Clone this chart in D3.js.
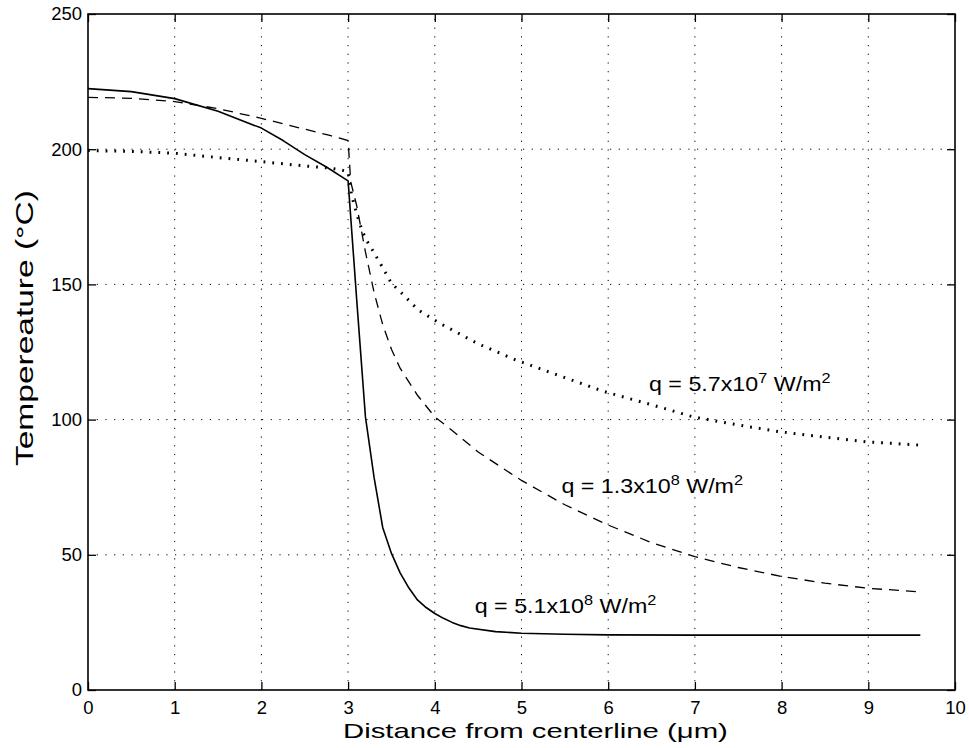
<!DOCTYPE html>
<html>
<head>
<meta charset="utf-8">
<title>Temperature vs distance</title>
<style>
	body{ margin:0; background:#fff; }
	svg text{ font-family: "Liberation Sans", Arial, Helvetica, sans-serif; fill:#000; }
	.grid line{ stroke:#000; stroke-width:1; stroke-dasharray:1.2,7.5; }
</style>
<script src="https://cdn.jsdelivr.net/npm/d3@7"></script>
</head>
<body>
<script>
	var width = 969, height = 748;

	// solid curve, q = 5.1x10^8 W/m^2
	var xSolid = [0, 0.5, 1, 1.5, 2, 2.25, 2.5, 2.75, 3, 3.1, 3.2, 3.3, 3.4, 3.5, 3.6, 3.7, 3.8, 3.9, 4, 4.1, 4.2, 4.3, 4.4, 4.7, 5, 5.5, 6, 7, 8, 9, 9.6];
	var tSolid = [222.4, 221.3, 218.7, 214, 207.8, 203.2, 198, 193.4, 188.3, 144, 101, 78.5, 60, 50.5, 43.3, 37.8, 33.3, 30.5, 28.3, 26.5, 25, 23.8, 22.9, 21.6, 21, 20.6, 20.4, 20.3, 20.3, 20.3, 20.3];

	// dashed curve, q = 1.3x10^8 W/m^2
	var xDashed = [0, 0.5, 1, 1.5, 2, 2.5, 2.8, 3, 3.03, 3.1, 3.2, 3.3, 3.4, 3.5, 3.6, 3.8, 4, 4.2, 4.5, 5, 5.5, 6, 6.5, 7, 7.5, 8, 8.5, 9, 9.6];
	var tDashed = [219.2, 218.8, 217.6, 215, 211.4, 207.4, 205, 203.2, 188, 179, 162, 147, 135, 126, 119, 109, 101, 96, 88, 77.5, 68.5, 61, 54.5, 49.3, 45.3, 42, 39.5, 37.6, 36.3];

	// dotted curve, q = 5.7x10^7 W/m^2
	var xDotted = [0, 0.5, 1, 1.5, 2, 2.5, 2.8, 3, 3.04, 3.1, 3.16, 3.21, 3.27, 3.37, 3.5, 3.62, 3.81, 4.06, 4.5, 4.94, 5.5, 5.96, 6.5, 6.98, 7.5, 7.98, 8.5, 8.98, 9.58];
	var tDotted = [199.5, 199.2, 198.5, 196.9, 195.4, 193.8, 193, 191.8, 183, 176, 170, 166.4, 163.3, 157.8, 150.4, 146.7, 140.5, 135.6, 128, 122, 115.5, 110.3, 105.5, 101, 98, 95.5, 93.5, 91.8, 90.6];

	var xTicks = [0, 1, 2, 3, 4, 5, 6, 7, 8, 9, 10];
	var yTicks = [0, 50, 100, 150, 200, 250];

	var labelMain = ["q = 5.7x10", "q = 1.3x10", "q = 5.1x10"];
	var labelExp = ["7", "8", "8"];
	var labelX = [6.47, 5.46, 4.46];
	var labelY = [110.6, 73, 28.4];

	// plot box (note: "top" is reserved on window, so use m* names)
	var mLeft = 88, mRight = 955, mTop = 14, mBottom = 690;

	var x = d3.scaleLinear().domain([0, 10]).range([mLeft, mRight]);
	var y = d3.scaleLinear().domain([0, 250]).range([mBottom, mTop]);

	var svg = d3.select("body").append("svg")
		.attr("width", width)
		.attr("height", height);

	// grid
	var grid = svg.append("g").attr("class", "grid");
	grid.selectAll(".vx").data(xTicks.slice(1, -1)).enter().append("line")
		.attr("x1", function(d){ return x(d); }).attr("x2", function(d){ return x(d); })
		.attr("y1", mBottom).attr("y2", mTop);
	grid.selectAll(".hy").data(yTicks.slice(1, -1)).enter().append("line")
		.attr("x1", mLeft).attr("x2", mRight)
		.attr("y1", function(d){ return y(d); }).attr("y2", function(d){ return y(d); });

	// axes with inward ticks on all sides
	var tk = 8;
	svg.append("g").attr("transform", "translate(0," + mBottom + ")")
		.call(d3.axisBottom(x).tickValues(xTicks).tickSize(-tk).tickPadding(11).tickFormat(d3.format("d")));
	svg.append("g").attr("transform", "translate(0," + mTop + ")")
		.call(d3.axisTop(x).tickValues(xTicks).tickSize(-tk).tickFormat(""));
	svg.append("g").attr("transform", "translate(" + mLeft + ",0)")
		.call(d3.axisLeft(y).tickValues(yTicks).tickSize(-tk).tickPadding(6).tickFormat(d3.format("d")));
	svg.append("g").attr("transform", "translate(" + mRight + ",0)")
		.call(d3.axisRight(y).tickValues(yTicks).tickSize(-tk).tickFormat(""));

	svg.selectAll(".domain").remove();
	svg.selectAll(".tick line").attr("stroke", "#000").attr("stroke-width", 1.3);
	svg.selectAll(".tick text").style("font-size", "18.5px").attr("fill", "#000");

	svg.append("rect")
		.attr("x", mLeft).attr("y", mTop)
		.attr("width", mRight - mLeft).attr("height", mBottom - mTop)
		.attr("fill", "none").attr("stroke", "#000").attr("stroke-width", 1.6);

	// curves
	var line = d3.line()
		.x(function(d){ return x(d[0]); })
		.y(function(d){ return y(d[1]); });

	function pairs(xs, ts){ return xs.map(function(v, i){ return [v, ts[i]]; }); }

	svg.append("path").datum(pairs(xDotted, tDotted))
		.attr("d", line).attr("fill", "none").attr("stroke", "#000")
		.attr("stroke-width", 3).attr("stroke-dasharray", "1.8,7");
	svg.append("path").datum(pairs(xDashed, tDashed))
		.attr("d", line).attr("fill", "none").attr("stroke", "#000")
		.attr("stroke-width", 1.3).attr("stroke-dasharray", "10,7");
	svg.append("path").datum(pairs(xSolid, tSolid))
		.attr("d", line).attr("fill", "none").attr("stroke", "#000")
		.attr("stroke-width", 1.6).attr("stroke-linejoin", "round");

	// stretch a text group horizontally to a given width
	function stretch(g, px, py, w){
		var bb = g.node().getBBox();
		g.attr("transform", "translate(" + px + "," + py + ") scale(" + (w / bb.width) + ",1)");
	}

	// curve labels
	labelMain.forEach(function(m, i){
		var g = svg.append("g");
		var t = g.append("text").style("font-size", "20px");
		t.append("tspan").text(m);
		t.append("tspan").attr("dy", -8).style("font-size", "14px").text(labelExp[i]);
		t.append("tspan").attr("dy", 8).text(" W/m");
		t.append("tspan").attr("dy", -8).style("font-size", "14px").text("2");
		stretch(g, x(labelX[i]), y(labelY[i]), 182);
	});

	// axis titles
	var gx = svg.append("g");
	gx.append("text").style("font-size", "20.5px").text("Distance from centerline (\u03bcm)");
	stretch(gx, 343, 738, 385);

	var gy = svg.append("g");
	gy.append("text").style("font-size", "24px").text("Tempereature (\u00b0C)");
	var bb = gy.node().getBBox();
	gy.attr("transform", "translate(33,466) rotate(-90) scale(" + (276 / bb.width) + ",1)");
</script>
</body>
</html>
